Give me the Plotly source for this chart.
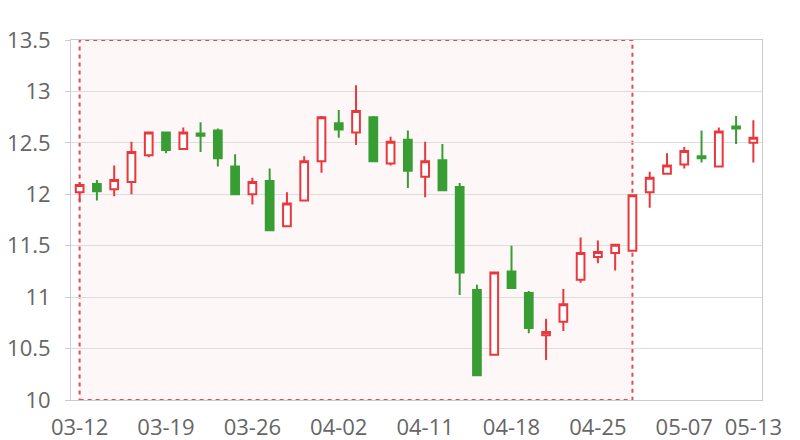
import plotly.graph_objects as go

dates = ["03-12", "03-13", "03-14", "03-15", "03-16",
         "03-19", "03-20", "03-21", "03-22", "03-23",
         "03-26", "03-27", "03-28", "03-29", "03-30",
         "04-02", "04-03", "04-04", "04-09", "04-10",
         "04-11", "04-12", "04-13", "04-16", "04-17",
         "04-18", "04-19", "04-20", "04-23", "04-24",
         "04-25", "04-26", "04-27", "05-02", "05-03",
         "05-07", "05-08", "05-09", "05-10", "05-13"]

open_ = [12.02, 12.10, 12.05, 12.12, 12.38, 12.60, 12.44, 12.59, 12.62, 12.27,
         12.00, 12.13, 11.69, 11.94, 12.32, 12.69, 12.60, 12.75, 12.30, 12.53,
         12.17, 12.33, 12.07, 11.07, 10.44, 11.25, 11.04, 10.63, 10.76, 11.17,
         11.39, 11.43, 11.45, 12.02, 12.20, 12.29, 12.37, 12.27, 12.66, 12.50]
close = [12.09, 12.03, 12.14, 12.41, 12.60, 12.43, 12.60, 12.57, 12.35, 12.00,
         12.12, 11.65, 11.91, 12.32, 12.75, 12.63, 12.81, 12.32, 12.51, 12.23,
         12.32, 12.04, 11.24, 10.24, 11.24, 11.09, 10.70, 10.66, 10.93, 11.43,
         11.44, 11.51, 11.99, 12.16, 12.28, 12.42, 12.35, 12.61, 12.64, 12.55]
high = [12.12, 12.14, 12.28, 12.51, 12.61, 12.61, 12.65, 12.70, 12.64, 12.39,
        12.16, 12.25, 12.02, 12.37, 12.76, 12.82, 13.06, 12.76, 12.56, 12.62,
        12.51, 12.49, 12.11, 11.12, 11.25, 11.50, 11.06, 10.79, 11.08, 11.58,
        11.55, 11.52, 12.00, 12.22, 12.40, 12.46, 12.62, 12.65, 12.76, 12.72]
low = [11.93, 11.94, 11.98, 12.00, 12.36, 12.40, 12.43, 12.41, 12.27, 11.99,
       11.90, 11.64, 11.68, 11.93, 12.21, 12.55, 12.48, 12.32, 12.28, 12.06,
       11.97, 12.03, 11.02, 10.24, 10.43, 11.09, 10.65, 10.39, 10.67, 11.14,
       11.33, 11.26, 11.45, 11.87, 12.20, 12.25, 12.31, 12.27, 12.49, 12.31]

tick_dates = ["03-12", "03-19", "03-26", "04-02", "04-11", "04-18", "04-25", "05-07", "05-13"]
y_ticks = [10, 10.5, 11, 11.5, 12, 12.5, 13, 13.5]
area_start, area_end = "03-12", "04-27"

RED = "#e8383d"
GREEN = "#389e34"

fig = go.Figure()
fig.add_trace(go.Candlestick(
    x=dates, open=open_, high=high, low=low, close=close,
    increasing=dict(line=dict(color=RED, width=2), fillcolor="white"),
    decreasing=dict(line=dict(color=GREEN, width=2), fillcolor=GREEN),
    whiskerwidth=0, showlegend=False,
))

fig.add_shape(type="rect", xref="x", yref="y",
              x0=dates.index(area_start), x1=dates.index(area_end),
              y0=y_ticks[0], y1=y_ticks[-1],
              fillcolor="rgba(240,60,60,0.04)",
              line=dict(color="#ea4a4e", width=2, dash="4px,4px"),
              layer="below")

font = dict(family="Open Sans", size=22, color="#666666")
fig.update_layout(
    width=800, height=440,
    margin=dict(l=71, r=38, t=40, b=40),
    plot_bgcolor="white", paper_bgcolor="white",
    boxgap=0.36,
    font=font,
    xaxis=dict(type="category", categoryorder="array", categoryarray=dates,
               tickvals=tick_dates, ticktext=tick_dates,
               rangeslider=dict(visible=False), automargin=False,
               showgrid=False, showline=True, linecolor="#cccccc", linewidth=1,
               mirror=True, ticks="", tickfont=font, ticklabelstandoff=8,
               range=[-0.5, len(dates) - 0.5]),
    yaxis=dict(range=[y_ticks[0], y_ticks[-1]], tickvals=y_ticks, automargin=False,
               showgrid=True, gridcolor="#dddddd", gridwidth=1,
               showline=True, linecolor="#cccccc", linewidth=1, mirror=True,
               ticks="outside", ticklen=5, tickcolor="#cccccc",
               tickfont=font, ticklabelstandoff=10, zeroline=False),
)

fig.write_html("out.html", config={"displayModeBar": False},
               post_script="document.body.style.margin='0';document.body.style.overflow='hidden';")
